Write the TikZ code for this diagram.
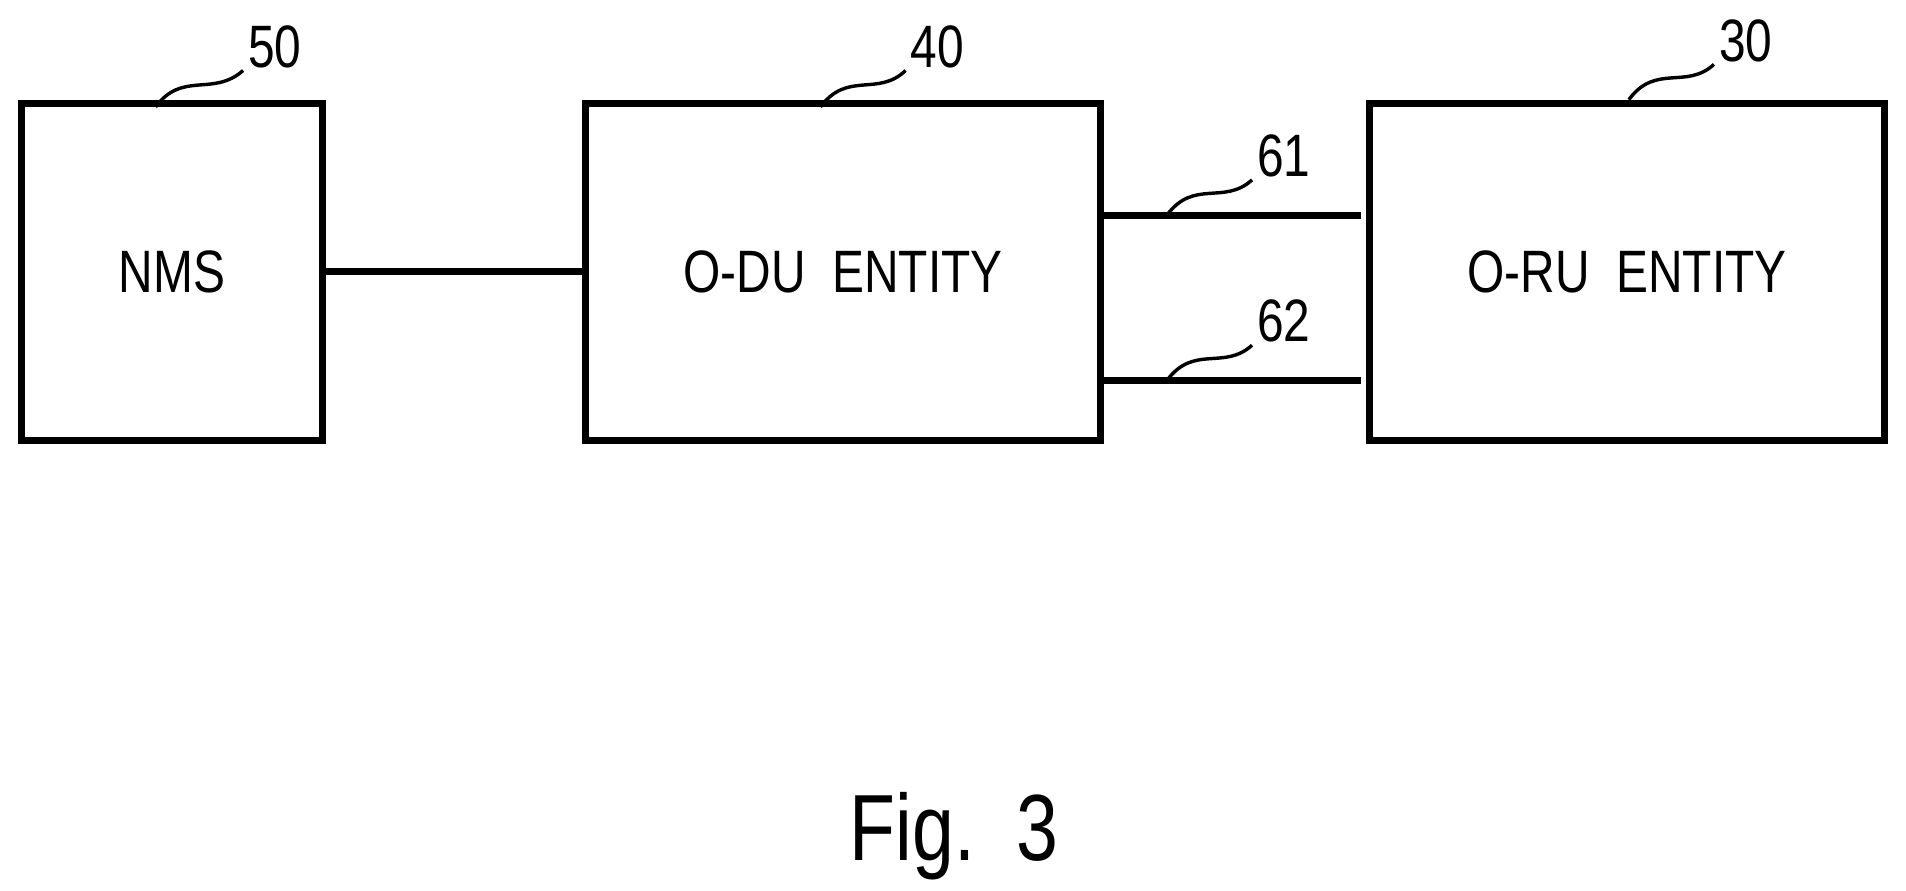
\documentclass[tikz,border=0pt]{standalone}
\usepackage{fontspec}
\setmainfont{Liberation Sans}[FakeStretch=0.8]
\usetikzlibrary{positioning,calc}
\tikzset{
  blk/.style={draw, line width=1.6pt, inner sep=0pt},
  lbl/.style={font=\fontsize{14}{14}\selectfont},
  num/.style={font=\fontsize{14}{14}\selectfont, anchor=south west, inner sep=1pt},
  lead/.style={line width=0.8pt},
}
\begin{document}
\begin{tikzpicture}[x=0.01cm,y=-0.01cm]
\useasboundingbox (0,0) rectangle (1568,733);
\node[blk, minimum width=2.47cm, minimum height=2.77cm] (nms) at (141.5,223.5) {};
\node[lbl] at (nms.center) {NMS};
\node[blk, minimum width=4.23cm, minimum height=2.77cm] (odu) at (693.5,223.5) {};
\node[lbl] at (odu.center) {O-DU\ \ ENTITY};
\node[blk, minimum width=4.23cm, minimum height=2.77cm] (oru) at (1338.5,223.5) {};
\node[lbl] at (oru.center) {O-RU\ \ ENTITY};
% connectors
\draw[line width=1.6pt] (nms.east) -- (odu.west);
\coordinate (a1) at (odu.east |- 0,177);
\coordinate (b1) at (1120,177);
\coordinate (a2) at (odu.east |- 0,313);
\coordinate (b2) at (1120,313);
\draw[line width=1.6pt] (a1) -- (b1);
\draw[line width=1.6pt] (a2) -- (b2);
% reference numbers
\node[num] (n50) at (200,60) {50};
\node[num] (n40) at (745,60) {40};
\node[num] (n30) at (1410,55) {30};
\node[num] (n61) at (1030,150) {61};
\node[num] (n62) at (1030,286) {62};
\draw[lead] (128,88) .. controls (150,58) and (175,80) .. (200,58);
\draw[lead] (675,88) .. controls (697,58) and (722,80) .. (745,58);
\draw[lead] (1340,82) .. controls (1362,52) and (1387,74) .. (1410,53);
\draw[lead] (960,177) .. controls (982,147) and (1007,169) .. (1030,148);
\draw[lead] (960,313) .. controls (982,283) and (1007,305) .. (1030,284);
\node[font=\fontsize{22}{22}\selectfont] (fig) at (785,688) {Fig.\ \ 3};
\end{tikzpicture}
\end{document}
